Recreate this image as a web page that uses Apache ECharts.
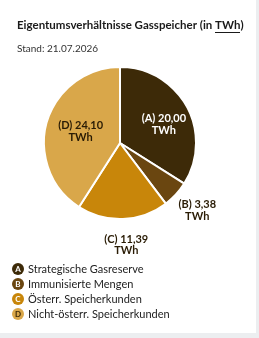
<!DOCTYPE html>
<html><head><meta charset="utf-8">
<script src="https://cdn.jsdelivr.net/npm/echarts@6/dist/echarts.min.js"></script>
<style>
html,body{margin:0;padding:0;background:#eceef0;}
#card{position:absolute;left:0;top:0;width:256px;height:333px;background:#fff;}
#c{width:256px;height:333px;}
</style></head><body>
<div id="card"><div id="c"></div></div>
<script>
const letters = ['A','B','C','D'];
const categories = ['Strategische Gasreserve','Immunisierte Mengen','Österr. Speicherkunden','Nicht-österr. Speicherkunden'];
const values = [20.00, 3.38, 11.39, 24.10];
const colors = ['#3d2a08','#6a4610','#c8860a','#d9a74a'];
const letterColors = ['#fff','#fff','#fff','#3d2a08'];
const titlePre = 'Eigentumsverhältnisse Gasspeicher (in ';
const titleAbbr = 'TWh';
const titlePost = ')';
const subtitleText = 'Stand: 21.07.2026';

const FONT = 'Lato';
const rich = {};
letters.forEach((l,i)=>{
  rich[l] = {backgroundColor: colors[i], color: letterColors[i], borderRadius: 6, width: 12, height: 12, lineHeight: 12, align:'center', fontSize: 8, fontWeight:'bold', fontFamily: FONT};
});
rich.t = {fontSize: 11, color:'#222', fontFamily: FONT, padding:[0,0,0,4]};

// underline image for abbreviation
const ul = document.createElement('canvas');
ul.width = 4; ul.height = 16;
const ctx = ul.getContext('2d');
ctx.fillStyle = '#1a1a1a';
ctx.fillRect(0, 15, 4, 1);

const fmt = v => v.toFixed(2).replace('.', ',');
const data = categories.map((n,i)=>({
  name: n, value: values[i],
  itemStyle: {color: colors[i]},
  label: (i===0||i===3) ? {position:'inside', color: i===0?'#fff':'#2a1c05'} : {position:'outside', color:'#2a1c05'}
}));

const tStyle = {fontFamily: FONT, fontSize: 11.5, fontWeight:'bold', color:'#1a1a1a', lineHeight: 16};
const chart = echarts.init(document.getElementById('c'), null, {renderer:'canvas'});
chart.setOption({
  animation:false,
  title:[{
    text: '{n|' + titlePre + '}{u|' + titleAbbr + '}{n|' + titlePost + '}', left: 12, top: 12,
    textStyle: Object.assign({}, tStyle, {rich:{
      n: tStyle,
      u: Object.assign({}, tStyle, {backgroundColor:{image: ul}, height:16})
    }})
  },{
    text: subtitleText, left: 12, top: 39,
    textStyle:{fontFamily: FONT, fontSize: 10, fontWeight:'normal', color:'#333'}
  }],
  legend:{
    orient:'vertical', left: 2, top: 258, itemGap: 3,
    icon:'none', itemWidth: 0, itemHeight: 12,
    data: categories,
    formatter: name => { const i = categories.indexOf(name); return '{'+letters[i]+'|'+letters[i]+'}{t|'+name+'}'; },
    textStyle:{rich: rich, fontFamily: FONT},
    selectedMode:false
  },
  series:[{
    type:'pie', center:[120,143], radius:76, startAngle:90, clockwise:true,
    itemStyle:{borderColor:'#fff', borderWidth:2},
    label:{
      show:true, fontFamily: FONT, fontSize: 11, fontWeight:'bold', lineHeight: 11.5,
      formatter: p => '(' + letters[p.dataIndex] + ') ' + fmt(p.value) + '\nTWh',
      align:'center'
    },
    labelLine:{show:false, length: 10, length2: 0},
    labelLayout: p => (p.dataIndex===0 ? {dx:8, dy:1} : p.dataIndex===1 ? {dx:9, dy:9, align:'center'} : p.dataIndex===2 ? {dx:-2, dy:16, align:'center'} : {}),
    emphasis:{disabled:true},
    data: data
  }]
});
</script></body></html>
